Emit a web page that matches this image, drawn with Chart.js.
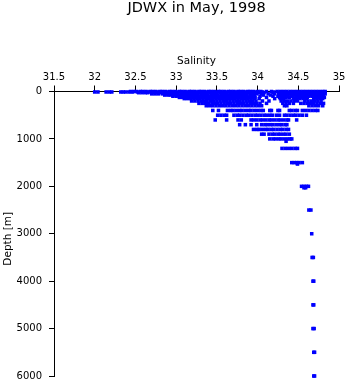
<!DOCTYPE html>
<html>
<head>
<meta charset="utf-8">
<script src="https://cdn.jsdelivr.net/npm/chart.js@4.4.0/dist/chart.umd.min.js"></script>
<style>
  html, body { margin: 0; padding: 0; background: #fff; }
</style>
</head>
<body>
<canvas id="myChart" width="348" height="384"></canvas>
<script>
// salinity, one list per sampling depth (m)
const sal0 = [32.44, 32.48, 32.51, 32.56, 32.59, 32.63, 32.68, 32.71, 32.75, 32.80, 32.83, 32.87, 32.92, 32.95, 32.99, 33.04, 33.07, 33.11, 33.16, 33.19, 33.23, 33.28, 33.31, 33.35, 33.40, 33.43, 33.47, 33.52, 33.55, 33.59, 33.64, 33.67, 33.71, 33.76, 33.79, 33.83, 33.88, 33.91, 33.95, 34.00, 34.04, 34.11, 34.17, 34.24, 34.28, 34.32, 34.36, 34.40, 34.44, 34.48, 34.52, 34.56, 34.60, 34.64, 34.68, 34.72, 34.76, 34.80, 34.83];
const sal10 = [32.00, 32.04, 32.14, 32.18, 32.21, 32.32, 32.35, 32.38, 32.42, 32.46, 32.53, 32.61, 32.66, 32.73, 32.78, 32.85, 32.90, 32.97, 33.02, 33.09, 33.14, 33.21, 33.26, 33.33, 33.38, 33.45, 33.50, 33.57, 33.62, 33.69, 33.74, 33.81, 33.86, 33.93, 33.98, 34.06, 34.20, 34.30, 34.34, 34.42, 34.46, 34.54, 34.58, 34.66, 34.70, 34.78, 34.82];
const sal25 = [32.54, 32.58, 32.62, 32.65, 32.70, 32.74, 32.77, 32.82, 32.86, 32.89, 32.94, 32.98, 33.01, 33.06, 33.10, 33.13, 33.18, 33.22, 33.25, 33.30, 33.34, 33.37, 33.42, 33.46, 33.49, 33.54, 33.58, 33.61, 33.66, 33.70, 33.73, 33.78, 33.82, 33.85, 33.90, 33.94, 33.97, 34.02, 34.08, 34.19, 34.26, 34.30, 34.34, 34.38, 34.42, 34.46, 34.50, 34.54, 34.58, 34.62, 34.66, 34.70, 34.74, 34.78, 34.82];
const sal50 = [32.70, 32.74, 32.78, 32.83, 32.87, 32.90, 32.95, 32.99, 33.02, 33.07, 33.11, 33.14, 33.19, 33.23, 33.26, 33.31, 33.35, 33.38, 33.43, 33.47, 33.50, 33.55, 33.59, 33.62, 33.67, 33.71, 33.74, 33.79, 33.83, 33.86, 33.91, 33.95, 33.99, 34.05, 34.13, 34.21, 34.27, 34.31, 34.35, 34.39, 34.43, 34.47, 34.51, 34.55, 34.59, 34.63, 34.67, 34.71, 34.75, 34.79, 34.83];
const sal75 = [32.86, 32.90, 32.93, 32.97, 33.01, 33.05, 33.08, 33.12, 33.16, 33.20, 33.24, 33.27, 33.32, 33.36, 33.39, 33.44, 33.48, 33.51, 33.56, 33.60, 33.63, 33.68, 33.72, 33.75, 33.80, 33.84, 33.87, 33.92, 33.96, 34.07, 34.16, 34.26, 34.29, 34.33, 34.37, 34.41, 34.45, 34.49, 34.53, 34.57, 34.61, 34.65, 34.69, 34.73, 34.77, 34.81];
const sal100 = [32.96, 33.00, 33.04, 33.07, 33.11, 33.15, 33.19, 33.22, 33.26, 33.30, 33.34, 33.38, 33.41, 33.45, 33.49, 33.53, 33.57, 33.60, 33.64, 33.68, 33.72, 33.76, 33.79, 33.83, 33.87, 33.91, 33.95, 34.03, 34.19, 34.25, 34.29, 34.33, 34.37, 34.43, 34.47, 34.51, 34.55, 34.59, 34.63, 34.67, 34.71, 34.75, 34.79];
const sal125 = [33.04, 33.08, 33.12, 33.15, 33.19, 33.23, 33.27, 33.31, 33.35, 33.39, 33.42, 33.46, 33.50, 33.54, 33.58, 33.62, 33.65, 33.69, 33.73, 33.77, 33.81, 33.85, 33.89, 33.93, 33.97, 34.11, 34.27, 34.31, 34.35, 34.39, 34.49, 34.53, 34.57, 34.61, 34.70, 34.74, 34.78, 34.82];
const sal150 = [33.10, 33.14, 33.18, 33.22, 33.26, 33.29, 33.33, 33.37, 33.41, 33.45, 33.49, 33.53, 33.57, 33.61, 33.64, 33.68, 33.72, 33.76, 33.80, 33.84, 33.88, 33.92, 33.96, 34.02, 34.21, 34.28, 34.32, 34.44, 34.48, 34.52, 34.56, 34.60, 34.69, 34.73, 34.77, 34.80];
const sal200 = [33.19, 33.23, 33.27, 33.31, 33.35, 33.38, 33.42, 33.46, 33.50, 33.54, 33.58, 33.62, 33.66, 33.70, 33.74, 33.78, 33.82, 33.86, 33.90, 33.94, 33.98, 34.06, 34.14, 34.29, 34.33, 34.37, 34.41, 34.45, 34.49, 34.58, 34.62, 34.66, 34.70, 34.74, 34.78];
const sal250 = [33.28, 33.32, 33.36, 33.40, 33.44, 33.47, 33.51, 33.55, 33.59, 33.63, 33.67, 33.71, 33.75, 33.79, 33.83, 33.87, 33.91, 33.95, 33.99, 34.03, 34.11, 34.31, 34.35, 34.39, 34.44, 34.53, 34.57, 34.61, 34.65, 34.69, 34.73, 34.77, 34.81];
const sal300 = [33.37, 33.41, 33.45, 33.49, 33.53, 33.57, 33.61, 33.65, 33.69, 33.73, 33.77, 33.81, 33.85, 33.89, 33.93, 33.97, 34.01, 34.05, 34.33, 34.36, 34.63, 34.67, 34.71, 34.75, 34.80];
const sal400 = [33.45, 33.52, 33.63, 33.67, 33.70, 33.74, 33.78, 33.81, 33.85, 33.89, 33.92, 33.96, 34.00, 34.04, 34.07, 34.15, 34.17, 34.25, 34.27, 34.39, 34.42, 34.46, 34.49, 34.55, 34.59, 34.63, 34.67, 34.71, 34.74];
const sal500 = [33.51, 33.55, 33.59, 33.62, 33.71, 33.75, 33.78, 33.82, 33.86, 33.89, 33.93, 33.97, 34.00, 34.04, 34.08, 34.11, 34.15, 34.18, 34.23, 34.27, 34.33, 34.36, 34.40, 34.44, 34.47, 34.51, 34.55, 34.60];
const sal600 = [33.48, 33.62, 33.76, 33.80, 33.92, 33.95, 33.99, 34.03, 34.06, 34.10, 34.14, 34.17, 34.21, 34.25, 34.28, 34.32, 34.36, 34.38, 34.48];
const sal700 = [33.78, 33.85, 33.92, 33.99, 34.05, 34.09, 34.12, 34.16, 34.19, 34.23, 34.27, 34.30, 34.34, 34.36];
const sal800 = [33.95, 33.99, 34.02, 34.06, 34.10, 34.13, 34.17, 34.20, 34.24, 34.28, 34.31, 34.35, 34.38];
const sal900 = [34.05, 34.08, 34.14, 34.18, 34.21, 34.25, 34.28, 34.32, 34.35, 34.39];
const sal1000 = [34.15, 34.19, 34.22, 34.26, 34.29, 34.33, 34.37, 34.40, 34.42];
const sal1050 = [34.35];
const sal1200 = [34.30, 34.34, 34.38, 34.42, 34.46, 34.49];
const sal1500 = [34.42, 34.45, 34.48, 34.51, 34.55];
const sal1530 = [34.49];
const sal2000 = [34.54, 34.57, 34.60, 34.625];
const sal2030 = [34.57, 34.59];
const sal2500 = [34.63, 34.655];
const sal3000 = [34.665];
const sal3500 = [34.67, 34.685];
const sal4000 = [34.68, 34.69];
const sal4500 = [34.68, 34.69];
const sal5000 = [34.68, 34.695];
const sal5500 = [34.69, 34.70];
const sal6000 = [34.69, 34.70];

const depths = [0, 10, 25, 50, 75, 100, 125, 150, 200, 250, 300, 400, 500, 600, 700, 800, 900, 1000, 1050, 1200, 1500, 1530, 2000, 2030, 2500, 3000, 3500, 4000, 4500, 5000, 5500, 6000];
const salRows = [sal0, sal10, sal25, sal50, sal75, sal100, sal125, sal150, sal200, sal250, sal300, sal400, sal500, sal600, sal700, sal800, sal900, sal1000, sal1050, sal1200, sal1500, sal1530, sal2000, sal2030, sal2500, sal3000, sal3500, sal4000, sal4500, sal5000, sal5500, sal6000];

const xTicks = [31.5, 32, 32.5, 33, 33.5, 34, 34.5, 35];
const yTicks = [0, 1000, 2000, 3000, 4000, 5000, 6000];

const points = [];
for (let i = 0; i < depths.length; i++) {
  for (let j = 0; j < salRows[i].length; j++) {
    points.push({ x: salRows[i][j], y: depths[i] });
  }
}

const font = { family: "DejaVu Sans", size: 10, weight: "normal" };

const data = {
  datasets: [
    {
      data: points,
      pointStyle: "rect",
      pointRadius: 2.5,
      pointBorderWidth: 0,
      backgroundColor: "#0000ff",
      borderColor: "#0000ff",
      clip: false,
    },
  ],
};

const config = {
  type: "scatter",
  data: data,
  options: {
    responsive: false,
    animation: false,
    events: [],
    layout: { padding: { top: 1, right: 9, bottom: 8, left: 0 } },
    plugins: {
      legend: { display: false },
      tooltip: { enabled: false },
      title: {
        display: true,
        fullSize: false,
        text: "JDWX in May, 1998",
        color: "#000",
        font: { family: "DejaVu Sans", size: 14.5, weight: "normal", lineHeight: 1 },
        padding: { top: 0, bottom: 0 },
      },
    },
    scales: {
      x: {
        type: "linear",
        position: "top",
        min: 31.5,
        max: 35,
        afterBuildTicks: (s) => { s.ticks = xTicks.map((v) => ({ value: v })); },
        afterFit: (s) => { s.height = 76; s.paddingLeft = 0; s.paddingRight = 0; },
        ticks: { color: "#000", font: font, padding: 2, maxRotation: 0, autoSkip: false, callback: (v) => String(v) },
        grid: { drawOnChartArea: false, drawTicks: true, tickLength: 6, color: "#000", lineWidth: 1 },
        border: { display: true, color: "#000", width: 1 },
        title: { display: true, text: "Salinity", color: "#000", font: { family: "DejaVu Sans", size: 10.5 }, padding: { top: 39, bottom: 0 } },
      },
      y: {
        type: "linear",
        reverse: true,
        min: 0,
        max: 6000,
        afterBuildTicks: (s) => { s.ticks = yTicks.map((v) => ({ value: v })); },
        afterFit: (s) => { s.width = 54; s.paddingTop = 0; s.paddingBottom = 0; },
        ticks: { color: "#000", font: font, padding: 7, autoSkip: false, callback: (v) => String(v) },
        grid: { drawOnChartArea: false, drawTicks: true, tickLength: 5, color: "#000", lineWidth: 1 },
        border: { display: true, color: "#000", width: 1 },
        title: { display: true, text: "Depth [m]\u00a0\u00a0\u00a0", color: "#000", font: { family: "DejaVu Sans", size: 10.5 }, padding: { top: 2, bottom: 0 } },
      },
    },
  },
};

var myChart = new Chart(document.getElementById("myChart"), config);
</script>
</body>
</html>
